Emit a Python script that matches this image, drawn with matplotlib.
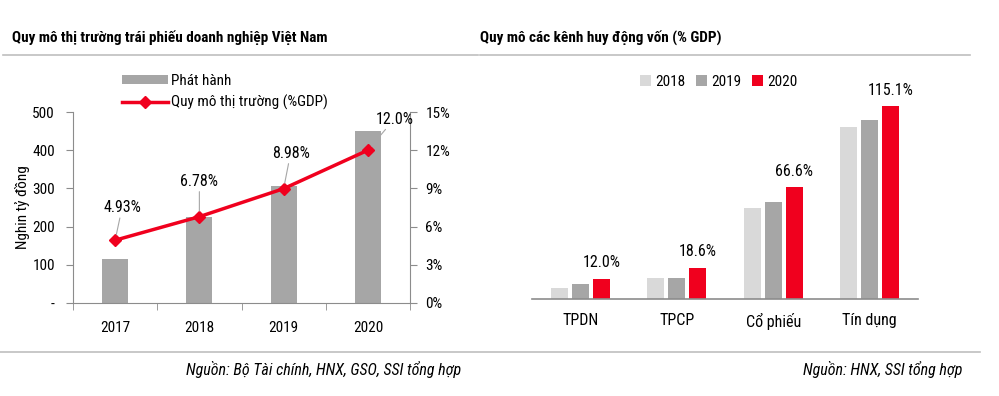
import matplotlib
matplotlib.use("Agg")
import matplotlib.pyplot as plt
import numpy as np

plt.rcParams["font.family"] = ["Roboto Condensed", "Liberation Sans", "DejaVu Sans"]
plt.rcParams["font.size"] = 11

# left chart data
years = ["2017", "2018", "2019", "2020"]
issuance = [115, 225, 306, 450]
market_gdp = [4.93, 6.78, 8.98, 12.0]
market_labels = ["4.93%", "6.78%", "8.98%", "12.0%"]

# right chart data
channels = ["TPDN", "TPCP", "Cổ phiếu", "Tín dụng"]
v2018 = [6.6, 12.5, 54.0, 102.6]
v2019 = [8.9, 12.5, 58.0, 107.0]
v2020 = [12.0, 18.6, 66.6, 115.1]

GRAY = "#A6A6A6"
LIGHT = "#D9D9D9"
RED = "#F0001E"
AX = "#8C8C8C"

W, H = 999, 396
fig = plt.figure(figsize=(W / 100, H / 100), dpi=100)

def rect(x0, y0, x1, y1):
    return [x0 / W, 1 - y1 / H, (x1 - x0) / W, (y1 - y0) / H]

# ---- left chart
ax = fig.add_axes(rect(73, 112, 410, 303))
x = np.arange(len(years))
ax.bar(x, issuance, width=0.31, color=GRAY, label="Phát hành", zorder=2)
ax.set_xlim(-0.5, 3.5)
ax.set_ylim(0, 500)
ax.set_yticks([0, 100, 200, 300, 400, 500])
ax.set_yticklabels(["-", "100", "200", "300", "400", "500"])
ax.set_xticks(x)
ax.set_xticklabels(years)
ax.set_xticks(np.arange(-0.5, 4, 1), minor=True)
ax.tick_params(axis="x", which="major", length=0, pad=13)
ax.tick_params(axis="x", which="minor", length=5, color=AX)
ax.tick_params(axis="y", length=5, color=AX, pad=8)
for s in ["top", "right"]:
    ax.spines[s].set_visible(False)
for s in ["left", "bottom"]:
    ax.spines[s].set_color(AX)
ax.set_ylabel("Nghin tỷ đồng", labelpad=2)

ax2 = ax.twinx()
ax2.plot(x, market_gdp, color=RED, lw=2.5, marker="D", ms=6, label="Quy mô thị trường (%GDP)", zorder=3)
ax2.set_ylim(0, 15)
ax2.set_yticks([0, 3, 6, 9, 12, 15])
ax2.set_yticklabels([f"{v}%" for v in [0, 3, 6, 9, 12, 15]])
ax2.tick_params(axis="y", length=5, color=AX, pad=6)
for s in ["top", "left", "bottom"]:
    ax2.spines[s].set_visible(False)
ax2.spines["right"].set_color(AX)

offsets = [(5, 18), (0, 20), (5, 20), (19, 17)]
for xi, v, lab, off in zip(x, market_gdp, market_labels, offsets):
    ax2.annotate(lab, (xi, v), xytext=off, textcoords="offset points", ha="center", va="bottom",
                 fontsize=11.5, arrowprops=dict(arrowstyle="-", color=GRAY, lw=0.8, shrinkA=0, shrinkB=4))

h1, l1 = ax.get_legend_handles_labels()
h2, l2 = ax2.get_legend_handles_labels()
fig.legend(h1 + h2, l1 + l2, loc="upper left", bbox_to_anchor=(116 / W, 1 - 68 / H), frameon=False,
           fontsize=11, handlelength=3.0, handleheight=0.55, handletextpad=0.2, labelspacing=0.45, borderaxespad=0)

# ---- right chart
bx = fig.add_axes(rect(532, 80, 918, 299))
xc = np.arange(len(channels))
bw = 0.176
bx.bar(xc - 0.218, v2018, width=bw, color=LIGHT, label="2018")
bx.bar(xc, v2019, width=bw, color=GRAY, label="2019")
bx.bar(xc + 0.218, v2020, width=bw, color=RED, label="2020")
for xi, v in zip(xc, v2020):
    bx.text(xi + 0.218, v + 5, f"{v:.1f}%", ha="center", va="bottom", fontsize=11.5)
bx.set_xlim(-0.5, 3.5)
bx.set_ylim(0, 130.6)
bx.set_yticks([])
bx.set_xticks(xc)
bx.set_xticklabels(channels, fontsize=11.5)
bx.tick_params(axis="x", length=0, pad=10)
for s in ["top", "right", "left"]:
    bx.spines[s].set_visible(False)
bx.spines["bottom"].set_color(AX)
bx.spines["bottom"].set_linewidth(1.2)
bx.legend(loc="upper center", bbox_to_anchor=(0.484, 1.05), ncol=3, frameon=False, fontsize=11,
          handlelength=0.7, handleheight=0.7, handletextpad=0.3, columnspacing=0.7, borderaxespad=0)

# ---- titles, rules, footers
fig.text(12 / W, 1 - 38 / H, "Quy mô thị trường trái phiếu doanh nghiệp Việt Nam", fontsize=11,
         fontweight="bold", va="center", ha="left")
fig.text(480 / W, 1 - 38 / H, "Quy mô các kênh huy động vốn (% GDP)", fontsize=11,
         fontweight="bold", va="center", ha="left")
fig.add_artist(plt.Line2D([3 / W, 478 / W], [1 - 55 / H] * 2, color="#BFBFBF", lw=1.2))
fig.add_artist(plt.Line2D([480 / W, 970 / W], [1 - 55 / H] * 2, color="#BFBFBF", lw=1.2))
fig.add_artist(plt.Line2D([0, 980 / W], [1 - 352 / H] * 2, color="#BFBFBF", lw=1.2))
fig.text(186 / W, 1 - 370 / H, "Nguồn: Bộ Tài chính, HNX, GSO, SSI tổng hợp", fontsize=11.5,
         style="italic", va="center", ha="left")
fig.text(962 / W, 1 - 370 / H, "Nguồn: HNX, SSI tổng hợp", fontsize=11.5,
         style="italic", va="center", ha="right")

fig.savefig("out.png", dpi=100)
